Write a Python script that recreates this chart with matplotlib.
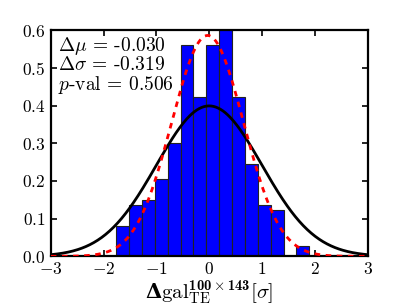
import numpy as np
import matplotlib
matplotlib.use("Agg")
import matplotlib.pyplot as plt
from matplotlib.ticker import FuncFormatter

plt.rcParams['font.family'] = 'serif'
plt.rcParams['font.serif'] = ['cmr10', 'DejaVu Serif']
plt.rcParams['axes.unicode_minus'] = False
# custom math fonts so that \mathbf gives real bold computer modern
plt.rcParams['mathtext.fontset'] = 'custom'
plt.rcParams['mathtext.rm'] = 'cmr10'
plt.rcParams['mathtext.it'] = 'cmmi10'
plt.rcParams['mathtext.bf'] = 'cmb10'
plt.rcParams['mathtext.sf'] = 'DejaVu Serif:bold'
plt.rcParams['mathtext.fallback'] = 'cm'

# histogram (normalised densities)
bin_left = [-1.763, -1.519, -1.275, -1.031, -0.787, -0.543, -0.299, -0.055,
            0.189, 0.433, 0.677, 0.921, 1.165, 1.409, 1.653]
bin_width = 0.244
density = [0.081, 0.136, 0.150, 0.204, 0.301, 0.560, 0.423, 0.560,
           0.736, 0.423, 0.246, 0.136, 0.123, 0.0, 0.027]

# fitted gaussian vs. unit normal
fit_mu, fit_sigma = -0.030, 0.681
ref_mu, ref_sigma = 0.0, 1.0

stats_text = [r"$\Delta\mu$ = -0.030", r"$\Delta\sigma$ = -0.319", r"$p$-val = 0.506"]

def gauss(x, mu, s):
    return np.exp(-0.5 * ((x - mu) / s) ** 2) / (s * np.sqrt(2 * np.pi))

fig = plt.figure(figsize=(4.07, 3.07), dpi=100)
ax = fig.add_axes([0.125, 0.165, 0.778, 0.737])

ax.bar(bin_left, density, width=bin_width, align='edge',
       color='#0000ff', edgecolor='#222222', linewidth=0.8, zorder=2)

xs = np.linspace(-3, 3, 400)
ax.plot(xs, gauss(xs, ref_mu, ref_sigma), color='black', lw=2, zorder=3)
ax.plot(xs, gauss(xs, fit_mu, fit_sigma), color='red', lw=2, ls=(0, (2, 2)), zorder=4)

ax.set_xlim(-3, 3)
ax.set_ylim(0, 0.6)
ax.set_xticks(range(-3, 4))
ax.set_yticks(np.arange(0, 0.61, 0.1))
ax.xaxis.set_major_formatter(FuncFormatter(lambda v, p: r"$%d$" % round(v)))
ax.yaxis.set_major_formatter(FuncFormatter(lambda v, p: r"$%.1f$" % v))
ax.tick_params(direction='in', top=True, right=True, length=4, width=1.2,
               labelsize=12.5, pad=4)
ax.tick_params(axis='x', pad=3)
for lab in ax.get_xticklabels() + ax.get_yticklabels():
    lab.set_math_fontfamily('cm')
for sp in ax.spines.values():
    sp.set_linewidth(1.6)

for i, t in enumerate(stats_text):
    ax.text(0.022, 0.93 - i * 0.086, t, transform=ax.transAxes,
            fontsize=14, va='center', ha='left', zorder=5, math_fontfamily='cm')

ax.set_xlabel(r"$\mathsf{\Delta}\mathrm{gal}_{\mathrm{TE}}^{\mathbf{100}\times\mathbf{143}}[\sigma]$",
              fontsize=15, labelpad=1)

fig.savefig("out.png", dpi=100)
